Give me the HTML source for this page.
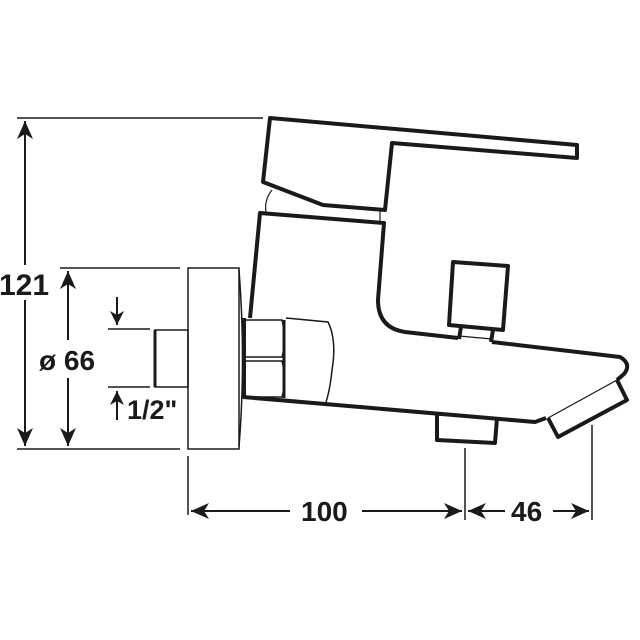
<!DOCTYPE html>
<html><head><style>
html,body{margin:0;padding:0;background:#fff;width:640px;height:640px;overflow:hidden}
text{font-family:"Liberation Sans",Arial,sans-serif;font-weight:bold;fill:#1a1a1a}
</style></head><body>
<svg width="640" height="640" viewBox="0 0 640 640" xmlns="http://www.w3.org/2000/svg">
<defs>
<marker id="a" viewBox="0 0 14 14" refX="14" refY="7" markerWidth="14" markerHeight="14" markerUnits="userSpaceOnUse" orient="auto-start-reverse">
<path d="M0,0 L14,7 L0,14 L4,7 z" fill="#1a1a1a"/></marker>
<marker id="b" viewBox="0 0 18 16" refX="18" refY="8" markerWidth="18" markerHeight="16" markerUnits="userSpaceOnUse" orient="auto-start-reverse">
<path d="M0,0 L18,8 L0,16 L5,8 z" fill="#1a1a1a"/></marker>
</defs>
<g fill="none" stroke="#1a1a1a">
<g stroke-width="1.5">
<line x1="17" y1="118" x2="263" y2="118"/>
<line x1="17" y1="449" x2="180" y2="449"/>
<line x1="60" y1="268" x2="180" y2="268"/>
<line x1="108" y1="329" x2="150" y2="329"/>
<line x1="108" y1="387" x2="150" y2="387"/>
<line x1="188" y1="456" x2="188" y2="515"/>
<line x1="465" y1="448" x2="465" y2="520"/>
<line x1="592" y1="425" x2="592" y2="520"/>
</g>
<g stroke-width="2">
<line x1="25" y1="121" x2="25" y2="265" marker-start="url(#b)"/>
<line x1="25" y1="300" x2="25" y2="446" marker-end="url(#b)"/>
<line x1="68" y1="271" x2="68" y2="340" marker-start="url(#b)"/>
<line x1="68" y1="378" x2="68" y2="446" marker-end="url(#b)"/>
<line x1="117" y1="297" x2="117" y2="325" marker-end="url(#a)"/>
<line x1="117" y1="420" x2="117" y2="391" marker-end="url(#a)"/>
<line x1="191" y1="511" x2="290" y2="511" marker-start="url(#b)"/>
<line x1="362" y1="511" x2="462" y2="511" marker-end="url(#b)"/>
<line x1="468" y1="511" x2="505" y2="511" marker-start="url(#b)"/>
<line x1="553" y1="511" x2="589" y2="511" marker-end="url(#b)"/>
</g>
<g stroke-width="1.5">
<rect x="188" y="268" width="51" height="181"/>
<path d="M239,270 Q246,359 239,447"/>
<rect x="155" y="330" width="33" height="57"/>
</g>
<line x1="155" y1="330" x2="155" y2="387" stroke-width="3"/>
<g stroke-width="1.5">
<path d="M244,320 L282,320 Q287,340 282,357 L244,357"/>
<path d="M244,361 L282,361 Q287,380 282,397 L244,397"/>
<path d="M286,318 L328,322 Q337,340 332,370 Q330,390 326,402"/>
</g>
<line x1="244" y1="318" x2="244" y2="398" stroke-width="4"/>
<line x1="284" y1="320" x2="284" y2="398" stroke-width="3"/>
<g stroke-width="4" stroke-linejoin="round">
<path d="M250,318 L260,213 L384,223 L378,300 Q378,328 405,332 L458,338"/>
<path d="M492,342 L620,357 Q632,364 624,374 L617,380"/>
<path d="M243,397 L535,422 L546,418"/>
<path d="M270,118 L577,145 L577,158 L392,143 L385,210 L323,205 L263,182 Z"/>
<path d="M453,262 L508,266 L503,330 L449,325 Z"/>
<path d="M461,327 L459,339"/>
<path d="M493,330 L491,342"/>
<path d="M437,415 L437,440 L495,443 L497,418"/>
<path d="M548,418 L558,437 L627,400 L617,380"/>
</g>
<g stroke-width="1.2">
<path d="M459,336 L492,339"/>
<path d="M437,415 L497,418"/>
<path d="M548,418 L617,380"/>
<path d="M272,190 Q264,200 266,212"/>
<line x1="380" y1="211" x2="380" y2="222"/>
</g>
</g>
<text x="-1" y="295" font-size="30">121</text>
<text x="39" y="370" font-size="28">ø 66</text>
<text x="127" y="419" font-size="27">1/2"</text>
<text x="301" y="521" font-size="28">100</text>
<text x="511" y="521" font-size="28">46</text>
</svg>
</body></html>
